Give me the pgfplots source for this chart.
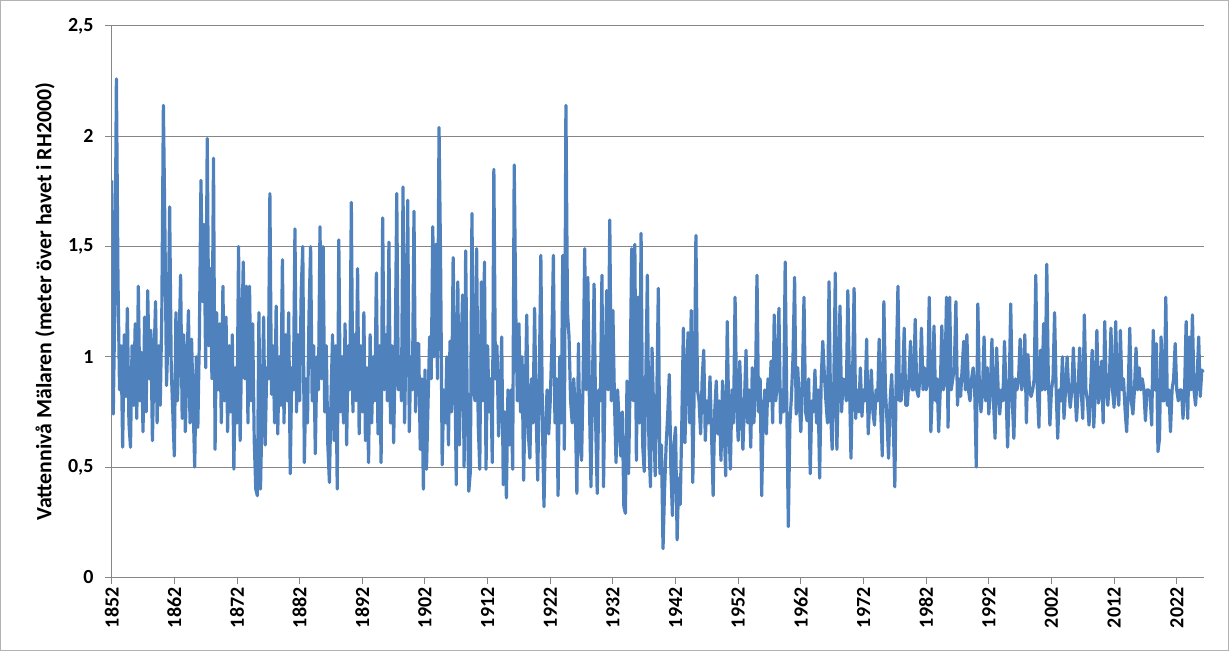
\documentclass[border=0pt]{standalone}
\usepackage{fontspec}
\setmainfont{Carlito}
\usepackage{pgfplots}
\pgfplotsset{compat=1.18}
\definecolor{xlblue}{HTML}{4F81BD}
\definecolor{xlgrid}{HTML}{868686}
\begin{document}
\begin{tikzpicture}
\useasboundingbox (-111.7pt,-73.7pt) rectangle (1117.3pt,577.3pt);
\begin{axis}[
  scale only axis, width=1092.6pt, height=551.3pt,
  xmin=1852, xmax=2026.4, ymin=0, ymax=2.5,
  axis x line*=bottom, axis y line*=left,
  axis line style={xlgrid, line width=1pt, -},
  xtick={1852,1862,...,2022},
  ytick={0,0.5,1,1.5,2,2.5},
  yticklabels={0,{0,5},1,{1,5},2,{2,5}},
  /pgf/number format/1000 sep={},
  /pgf/number format/assume math mode=true,
  tick align=outside, major tick length=6.7pt,
  tick style={xlgrid, line width=1pt},
  ymajorgrids, grid style={xlgrid, line width=1pt},
  xticklabel style={font=\bfseries\fontsize{20}{24}\selectfont, rotate=90, anchor=east},
  yticklabel style={font=\bfseries\fontsize{20}{24}\selectfont, xshift=-8pt},
  ylabel={Vattennivå Mälaren (meter över havet i RH2000)},
  ylabel style={font=\bfseries\fontsize{21.8}{26}\selectfont, at={(axis description cs:-0.061,0.5)}, anchor=center},
]
\addplot[xlblue, line width=3.2pt, line join=round, no markers]
  table[x expr=1852+\coordindex/4, y index=0, header=false, row sep=\\] {
1.80\\ 0.74\\ 1.24\\ 2.26\\
1.36\\ 0.85\\ 1.05\\ 0.59\\
1.10\\ 0.82\\ 1.22\\ 0.70\\
0.59\\ 1.05\\ 0.78\\ 1.15\\
0.72\\ 1.32\\ 0.80\\ 1.02\\
0.66\\ 1.18\\ 0.75\\ 1.30\\
0.90\\ 1.12\\ 0.62\\ 0.98\\
1.25\\ 0.70\\ 1.05\\ 0.78\\
1.20\\ 2.14\\ 1.56\\ 0.87\\
1.10\\ 1.68\\ 0.95\\ 0.75\\
0.55\\ 1.20\\ 0.80\\ 1.05\\
1.37\\ 0.72\\ 1.10\\ 0.66\\
0.95\\ 1.21\\ 0.70\\ 1.08\\
0.78\\ 0.50\\ 1.00\\ 0.68\\
1.10\\ 1.80\\ 1.25\\ 1.60\\
0.95\\ 1.99\\ 1.05\\ 1.40\\
0.90\\ 1.90\\ 0.58\\ 1.20\\
0.85\\ 1.15\\ 0.70\\ 1.32\\
0.80\\ 1.18\\ 0.66\\ 1.05\\
0.75\\ 1.10\\ 0.49\\ 0.95\\
0.70\\ 1.50\\ 0.62\\ 1.05\\
1.43\\ 0.90\\ 1.32\\ 0.70\\
1.32\\ 0.80\\ 1.15\\ 0.62\\
0.40\\ 0.37\\ 1.20\\ 0.40\\
0.75\\ 1.18\\ 0.60\\ 0.95\\
0.90\\ 1.74\\ 0.83\\ 1.05\\
0.70\\ 1.23\\ 0.65\\ 1.00\\
0.78\\ 1.44\\ 0.70\\ 1.10\\
0.80\\ 1.20\\ 0.47\\ 0.95\\
0.85\\ 1.58\\ 0.75\\ 1.10\\
0.80\\ 1.30\\ 1.50\\ 0.52\\
0.90\\ 0.70\\ 1.20\\ 1.50\\
0.80\\ 1.05\\ 0.56\\ 1.00\\
0.85\\ 1.59\\ 0.90\\ 1.50\\
0.75\\ 1.05\\ 0.60\\ 0.43\\
0.80\\ 1.10\\ 0.62\\ 1.05\\
0.40\\ 1.53\\ 0.75\\ 1.00\\
0.70\\ 1.15\\ 0.60\\ 1.05\\
0.85\\ 1.70\\ 0.75\\ 1.10\\
0.80\\ 1.40\\ 0.65\\ 1.05\\
0.75\\ 1.20\\ 0.62\\ 0.95\\
0.52\\ 1.10\\ 0.70\\ 1.00\\
0.80\\ 1.38\\ 0.65\\ 1.05\\
0.52\\ 1.63\\ 0.85\\ 1.10\\
0.80\\ 1.52\\ 0.70\\ 1.05\\
0.61\\ 1.00\\ 1.74\\ 0.85\\
1.00\\ 0.80\\ 1.77\\ 0.70\\
1.10\\ 1.71\\ 0.66\\ 1.00\\
0.85\\ 1.66\\ 0.75\\ 1.06\\
1.06\\ 0.58\\ 0.90\\ 0.40\\
0.94\\ 0.49\\ 0.80\\ 1.09\\
0.90\\ 1.59\\ 1.00\\ 1.51\\
0.90\\ 2.04\\ 1.42\\ 0.51\\
0.85\\ 0.70\\ 1.00\\ 0.60\\
1.07\\ 0.75\\ 1.45\\ 1.00\\
0.42\\ 1.34\\ 0.60\\ 1.00\\
1.28\\ 0.50\\ 1.48\\ 0.80\\
0.39\\ 0.48\\ 1.65\\ 0.85\\
0.80\\ 1.49\\ 0.70\\ 0.49\\
1.34\\ 0.80\\ 1.43\\ 0.49\\
1.05\\ 0.75\\ 0.90\\ 0.52\\
1.85\\ 0.90\\ 1.05\\ 0.64\\
0.80\\ 1.09\\ 0.42\\ 0.75\\
0.36\\ 0.85\\ 0.60\\ 0.85\\
0.49\\ 1.87\\ 1.20\\ 0.80\\
1.15\\ 0.75\\ 1.00\\ 0.44\\
0.80\\ 1.19\\ 0.65\\ 0.54\\
0.90\\ 0.70\\ 1.22\\ 0.75\\
0.44\\ 0.90\\ 1.46\\ 0.70\\
0.32\\ 0.70\\ 0.85\\ 0.65\\
0.80\\ 1.05\\ 1.46\\ 0.70\\
0.90\\ 0.37\\ 1.00\\ 0.70\\
1.46\\ 0.58\\ 2.14\\ 1.20\\
1.09\\ 0.80\\ 0.70\\ 0.90\\
0.75\\ 0.38\\ 1.06\\ 0.60\\
0.53\\ 0.90\\ 1.49\\ 0.85\\
1.36\\ 0.80\\ 0.41\\ 0.90\\
1.33\\ 0.70\\ 0.38\\ 0.85\\
0.80\\ 1.37\\ 0.41\\ 0.90\\
1.30\\ 0.85\\ 1.62\\ 0.80\\
1.21\\ 0.80\\ 0.52\\ 0.85\\
0.70\\ 0.55\\ 0.75\\ 0.32\\
0.29\\ 0.89\\ 0.47\\ 0.90\\
1.49\\ 0.80\\ 1.51\\ 0.53\\
1.27\\ 0.70\\ 1.56\\ 0.60\\
0.48\\ 0.90\\ 1.37\\ 0.60\\
0.41\\ 1.04\\ 0.75\\ 0.46\\
0.80\\ 1.31\\ 0.47\\ 0.60\\
0.13\\ 0.40\\ 0.60\\ 0.74\\
0.92\\ 0.50\\ 0.28\\ 0.60\\
0.68\\ 0.17\\ 0.45\\ 0.33\\
0.70\\ 1.13\\ 0.61\\ 0.90\\
1.11\\ 0.70\\ 1.21\\ 0.43\\
0.90\\ 1.55\\ 0.85\\ 0.80\\
0.65\\ 0.90\\ 1.03\\ 0.62\\
0.80\\ 0.70\\ 0.91\\ 0.65\\
0.37\\ 0.75\\ 0.89\\ 0.65\\
0.80\\ 0.53\\ 0.89\\ 0.70\\
0.46\\ 1.16\\ 0.70\\ 0.49\\
0.85\\ 0.70\\ 1.27\\ 0.80\\
0.62\\ 0.98\\ 0.75\\ 0.58\\
0.80\\ 1.03\\ 0.70\\ 0.85\\
0.59\\ 0.95\\ 0.70\\ 0.85\\
1.37\\ 0.75\\ 0.90\\ 0.37\\
0.75\\ 0.85\\ 0.65\\ 0.90\\
0.80\\ 0.98\\ 0.70\\ 1.19\\
0.80\\ 0.90\\ 1.22\\ 0.70\\
0.85\\ 0.75\\ 1.43\\ 0.80\\
0.23\\ 0.70\\ 0.82\\ 1.00\\
1.36\\ 0.74\\ 0.95\\ 0.80\\
0.66\\ 0.90\\ 1.27\\ 0.75\\
0.71\\ 0.90\\ 0.47\\ 0.80\\
0.75\\ 0.94\\ 0.70\\ 0.85\\
0.45\\ 0.90\\ 1.07\\ 0.92\\
0.80\\ 0.70\\ 1.34\\ 0.75\\
0.58\\ 0.85\\ 1.38\\ 0.58\\
0.90\\ 1.23\\ 0.75\\ 0.90\\
0.88\\ 0.80\\ 1.30\\ 0.90\\
0.54\\ 0.90\\ 1.31\\ 0.72\\
0.85\\ 0.75\\ 0.95\\ 0.73\\
0.85\\ 0.80\\ 1.08\\ 0.65\\
0.80\\ 0.94\\ 0.75\\ 0.69\\
0.85\\ 0.80\\ 1.08\\ 0.75\\
0.55\\ 1.25\\ 0.85\\ 0.71\\
0.54\\ 0.80\\ 0.92\\ 0.70\\
0.41\\ 0.98\\ 1.32\\ 0.80\\
0.80\\ 0.90\\ 1.13\\ 0.78\\
0.78\\ 0.90\\ 1.07\\ 0.85\\
0.85\\ 1.17\\ 0.85\\ 0.82\\
0.90\\ 1.13\\ 0.85\\ 0.95\\
0.85\\ 0.90\\ 1.27\\ 0.66\\
0.85\\ 1.14\\ 0.80\\ 0.90\\
0.66\\ 0.85\\ 1.14\\ 0.85\\
0.90\\ 1.27\\ 0.68\\ 1.27\\
0.85\\ 0.90\\ 0.95\\ 1.25\\
0.78\\ 0.90\\ 0.82\\ 0.95\\
1.07\\ 0.85\\ 1.10\\ 0.85\\
0.80\\ 0.90\\ 0.95\\ 0.85\\
0.50\\ 1.24\\ 0.85\\ 0.75\\
0.85\\ 1.09\\ 0.80\\ 0.95\\
0.74\\ 0.85\\ 1.08\\ 0.80\\
0.63\\ 1.04\\ 0.85\\ 0.74\\
0.85\\ 0.80\\ 1.07\\ 0.85\\
0.59\\ 0.85\\ 1.24\\ 0.80\\
0.63\\ 0.90\\ 0.85\\ 0.90\\
1.08\\ 0.85\\ 0.90\\ 1.10\\
0.70\\ 1.01\\ 0.85\\ 0.82\\
0.85\\ 0.90\\ 1.37\\ 0.85\\
0.68\\ 1.03\\ 0.85\\ 1.15\\
0.85\\ 1.42\\ 0.90\\ 0.69\\
0.85\\ 0.90\\ 1.20\\ 0.85\\
0.63\\ 0.85\\ 0.80\\ 1.00\\
0.72\\ 0.85\\ 1.00\\ 0.85\\
0.77\\ 0.85\\ 1.04\\ 0.85\\
0.71\\ 0.85\\ 1.04\\ 0.85\\
0.72\\ 1.19\\ 0.85\\ 0.80\\
0.69\\ 0.85\\ 1.03\\ 0.68\\
0.85\\ 1.12\\ 0.79\\ 0.85\\
0.98\\ 0.70\\ 1.16\\ 0.85\\
0.78\\ 0.90\\ 1.13\\ 0.85\\
0.77\\ 1.16\\ 0.85\\ 0.78\\
1.12\\ 0.85\\ 0.90\\ 0.76\\
0.66\\ 0.85\\ 1.13\\ 0.80\\
0.74\\ 0.85\\ 1.04\\ 0.85\\
0.95\\ 0.85\\ 0.90\\ 0.85\\
0.71\\ 0.85\\ 0.85\\ 0.82\\
0.69\\ 1.12\\ 0.85\\ 1.06\\
0.57\\ 0.63\\ 1.09\\ 0.80\\
0.80\\ 1.27\\ 0.78\\ 0.85\\
0.66\\ 0.85\\ 0.90\\ 1.06\\
0.85\\ 0.80\\ 0.85\\ 0.85\\
0.72\\ 0.85\\ 1.16\\ 0.72\\
1.09\\ 0.85\\ 1.19\\ 0.85\\
0.78\\ 0.90\\ 1.09\\ 0.82\\
0.94\\ 0.93\\
};
\end{axis}
\draw[gray!60, line width=1pt] (-111.2pt,-73.2pt) rectangle (1116.8pt,576.8pt);
\end{tikzpicture}
\end{document}
